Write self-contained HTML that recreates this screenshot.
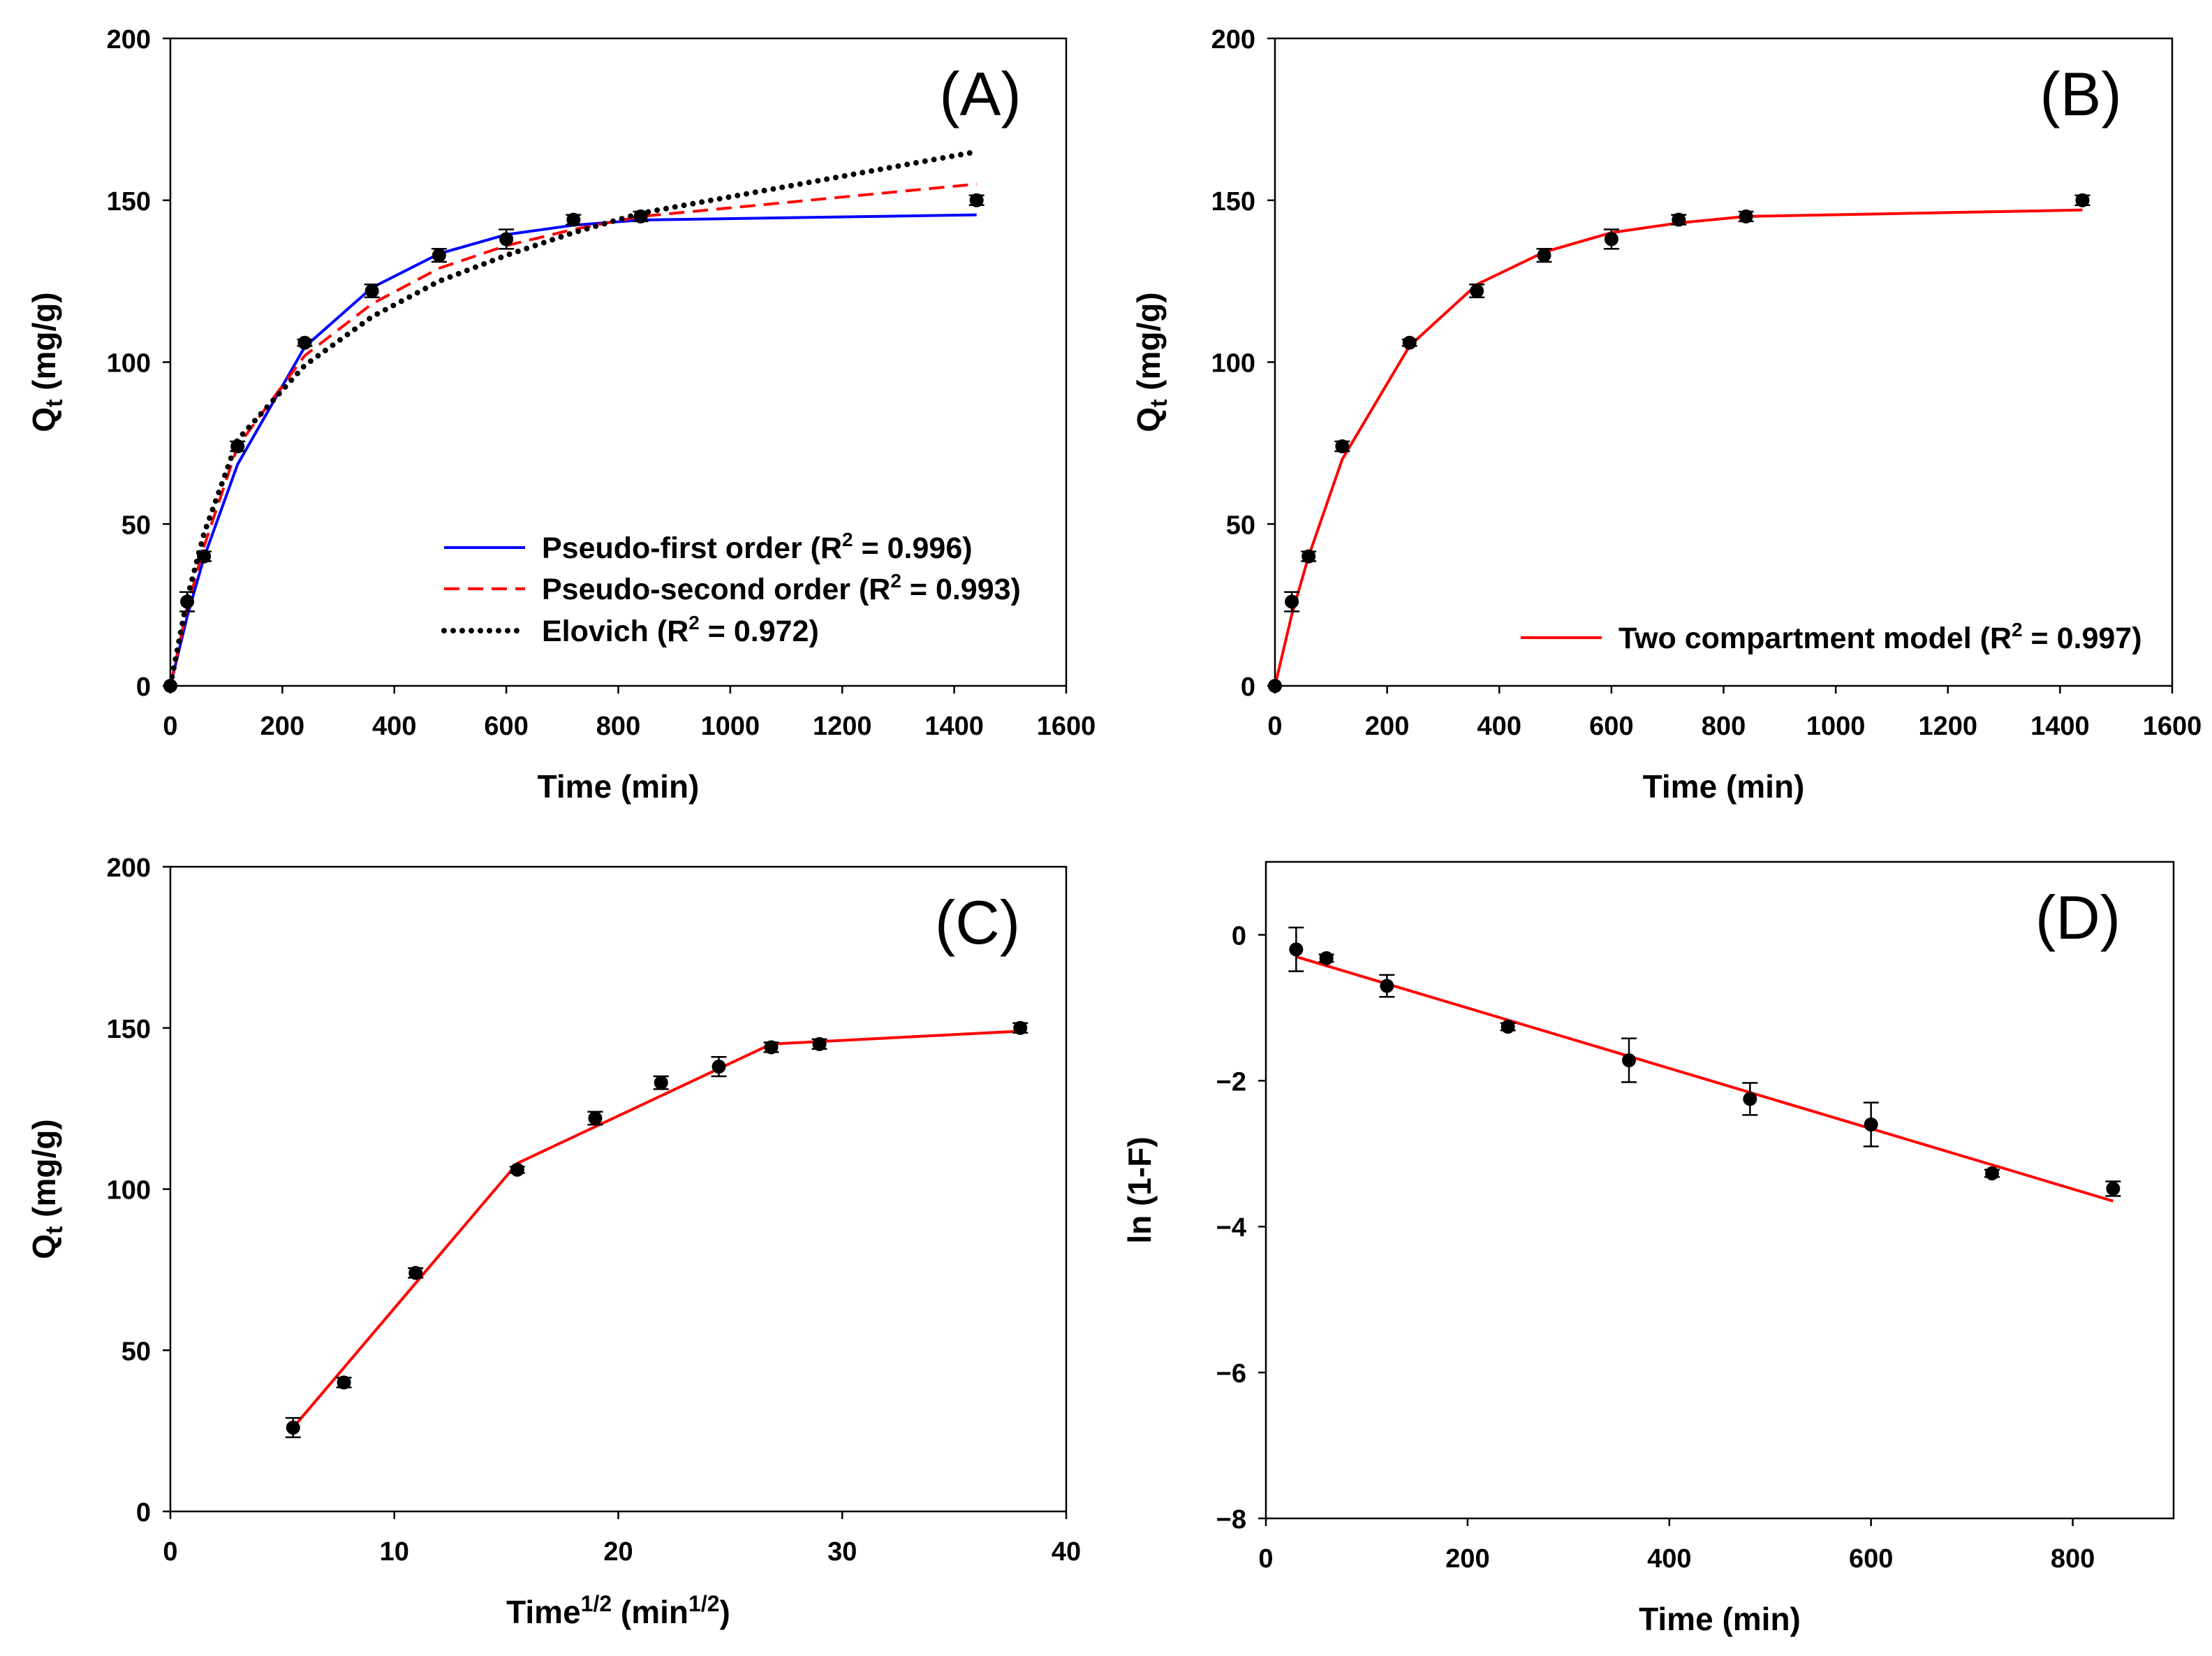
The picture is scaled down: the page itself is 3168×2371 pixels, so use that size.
<!DOCTYPE html>
<html><head><meta charset="utf-8"><style>
html,body{margin:0;padding:0;background:#fff}
svg text{font-family:"Liberation Sans",Arial,sans-serif}
</style></head><body>
<svg id="fig" xmlns="http://www.w3.org/2000/svg" width="3168" height="2366" viewBox="0 0 3168 2366"></svg>
<script>
// ---- data ----
const timesA = [0,30,60,120,240,360,480,600,720,840,1440];
const qtA = [0,26,40,74,106,122,133,138,144,145,150];
const qtErr = [0,3,1.5,1.5,1,2,2,3,1.5,1.5,1.5];
const pfoFit = [0,21.4,39.6,68.4,104.7,123,133.5,139.4,142.3,143.9,145.5];
const psoFit = [0,24,43,74,102,118,129,136,141,145,155];
const elovichFit = [0,27,47,76,99,114,125,133,140,146,165];
const twoCompFit = [0,22,40,70,105,124,134,140,143,145,147];
const sqrtTimeC = [5.48,7.75,10.95,15.49,18.97,21.91,24.49,26.83,28.98,37.95];
const qtC = [26,40,74,106,122,133,138,144,145,150];
const qtCErr = [3,1.5,1.5,1,2,2,3,1.5,1.5,1.5];
const ipdX = [5.48,15.49,26.83,37.95];
const ipdY = [26,108,145,149];
const timesD = [30,60,120,240,360,480,600,720,840];
const lnD = [-0.2,-0.32,-0.7,-1.26,-1.72,-2.25,-2.6,-3.27,-3.48];
const lnDErr = [0.3,0.05,0.15,0.05,0.3,0.22,0.3,0.05,0.1];
const lineDX = [30,840];
const lineDY = [-0.3,-3.65];
const ticksX_AB = [0,200,400,600,800,1000,1200,1400,1600];
const ticksY_ABC = [0,50,100,150,200];
const ticksX_C = [0,10,20,30,40];
const ticksX_D = [0,200,400,600,800];
const ticksY_D = [0,-2,-4,-6,-8];

const NS="http://www.w3.org/2000/svg";
const svg=document.getElementById('fig');
function mk(tag,attrs,parent){const e=document.createElementNS(NS,tag);for(const k in attrs)e.setAttribute(k,attrs[k]);(parent||svg).appendChild(e);return e;}

function panel(p){
  const g=mk('g',{});
  
  
  const sx=v=>p.L+(v-p.x0)/(p.x1-p.x0)*(p.R-p.L);
  const sy=v=>p.B-(v-p.y0)/(p.y1-p.y0)*(p.B-p.T);
  const frame=mk('rect',{x:p.L,y:p.T,width:p.R-p.L,height:p.B-p.T,fill:'none',stroke:'#000','stroke-width':2.5},g);
  
  
  p.xt.forEach(v=>{
    mk('line',{x1:sx(v),x2:sx(v),y1:p.B,y2:p.B+11,stroke:'#000','stroke-width':2.5},g);
    const t=mk('text',{x:sx(v),y:p.B+70,'text-anchor':'middle','font-size':38,'font-weight':'bold'},g);
    t.textContent=v;
    
    
  });
  p.yt.forEach(v=>{
    mk('line',{x1:p.L-11,x2:p.L,y1:sy(v),y2:sy(v),stroke:'#000','stroke-width':2.5},g);
    const t=mk('text',{x:p.L-28,y:sy(v)+14,'text-anchor':'end','font-size':38,'font-weight':'bold'},g);
    t.textContent=(v<0?'\u2212'+(-v):v);
    
    
  });
  const xt=mk('text',{x:(p.L+p.R)/2,y:p.B+160,'text-anchor':'middle','font-size':46,'font-weight':'bold'},g);
  xt.innerHTML=p.xtitle;
  
  
  const yt=mk('text',{x:0,y:0,'text-anchor':'middle','font-size':46,'font-weight':'bold',transform:`translate(${p.L-165},${(p.T+p.B)/2}) rotate(-90)`},g);
  yt.innerHTML=p.ytitle;
  
  
  const lab=mk('text',{x:p.labX,y:p.T+110,'text-anchor':'middle','font-size':88,'font-family':'"DejaVu Sans",sans-serif'},g);
  lab.textContent=p.label;
  
  
  return {g,sx,sy};
}
function line(ctx,xs,ys,style,name){
  const pts=xs.map((x,i)=>ctx.sx(x)+','+ctx.sy(ys[i])).join(' ');
  const pl=mk('polyline',Object.assign({points:pts,fill:'none'},style),ctx.g);
  
  
}
function points(ctx,xs,ys,errs,name){
  xs.forEach((x,i)=>{
    const cx=ctx.sx(x),cy=ctx.sy(ys[i]);
    if(errs[i]>0){
      const a=ctx.sy(ys[i]+errs[i]),b=ctx.sy(ys[i]-errs[i]);
      mk('line',{x1:cx,x2:cx,y1:a,y2:b,stroke:'#000','stroke-width':2.5},ctx.g);
      mk('line',{x1:cx-11,x2:cx+11,y1:a,y2:a,stroke:'#000','stroke-width':2.5},ctx.g);
      mk('line',{x1:cx-11,x2:cx+11,y1:b,y2:b,stroke:'#000','stroke-width':2.5},ctx.g);
    }
    const c=mk('circle',{cx:cx,cy:cy,r:10,fill:'#000'},ctx.g);
    
    
  });
}
function legend(g,x,y,style,text,name){
  const lg=mk('g',{},g);
  
  
  mk('line',Object.assign({x1:x,x2:x+116,y1:y,y2:y},style),lg);
  const t=mk('text',{x:x+140,y:y+15,'font-size':43,'font-weight':'bold'},lg);
  t.innerHTML=text;
}
const QT='Q<tspan font-size="34" dy="10">t</tspan><tspan dy="-10"> (mg/g)</tspan>';
const blue={stroke:'#0000ff','stroke-width':4};
const red={stroke:'#ff0000','stroke-width':4,'stroke-dasharray':'22,12'};
const dot={stroke:'#000','stroke-width':8,'stroke-dasharray':'0,13','stroke-linecap':'round'};
const redS={stroke:'#ff0000','stroke-width':4};

// Panel A
const A=panel({name:'panel-a',L:244,R:1527,T:55,B:982,x0:0,x1:1600,y0:0,y1:200,xt:ticksX_AB,yt:ticksY_ABC,xtitle:'Time (min)',ytitle:QT,label:'(A)',labX:1404});
line(A,timesA,pfoFit,blue,'pseudo-first-order-line');
line(A,timesA,psoFit,red,'pseudo-second-order-line');
line(A,timesA,elovichFit,dot,'elovich-line');
points(A,timesA,qtA,qtErr,'data-point');
legend(A.g,636,784,blue,'Pseudo-first order (R<tspan font-size="28" dy="-17">2</tspan><tspan dy="17"> = 0.996)</tspan>','legend-pfo');
legend(A.g,636,843,red,'Pseudo-second order (R<tspan font-size="28" dy="-17">2</tspan><tspan dy="17"> = 0.993)</tspan>','legend-pso');
legend(A.g,636,903,dot,'Elovich (R<tspan font-size="28" dy="-17">2</tspan><tspan dy="17"> = 0.972)</tspan>','legend-elovich');

// Panel B
const Bp=panel({name:'panel-b',L:1826,R:3111,T:55,B:982,x0:0,x1:1600,y0:0,y1:200,xt:ticksX_AB,yt:ticksY_ABC,xtitle:'Time (min)',ytitle:QT,label:'(B)',labX:2980});
line(Bp,timesA,twoCompFit,redS,'two-compartment-line');
points(Bp,timesA,qtA,qtErr,'data-point');
legend(Bp.g,2178,913,redS,'Two compartment model (R<tspan font-size="28" dy="-17">2</tspan><tspan dy="17"> = 0.997)</tspan>','legend-two-compartment');

// Panel C
const C=panel({name:'panel-c',L:244,R:1527,T:1241,B:2164,x0:0,x1:40,y0:0,y1:200,xt:ticksX_C,yt:ticksY_ABC,xtitle:'Time<tspan font-size="32" dy="-17">1/2</tspan><tspan dy="17"> (min</tspan><tspan font-size="32" dy="-17">1/2</tspan><tspan dy="17">)</tspan>',ytitle:QT,label:'(C)',labX:1400});
line(C,ipdX,ipdY,redS,'intraparticle-diffusion-line');
points(C,sqrtTimeC,qtC,qtCErr,'data-point');

// Panel D
const D=panel({name:'panel-d',L:1813,R:3113,T:1234,B:2174,x0:0,x1:900,y0:-8,y1:1,xt:ticksX_D,yt:ticksY_D,xtitle:'Time (min)',ytitle:'ln (1-F)',label:'(D)',labX:2976});
line(D,lineDX,lineDY,redS,'liquid-film-diffusion-line');
points(D,timesD,lnD,lnDErr,'data-point');
</script>
</body></html>
